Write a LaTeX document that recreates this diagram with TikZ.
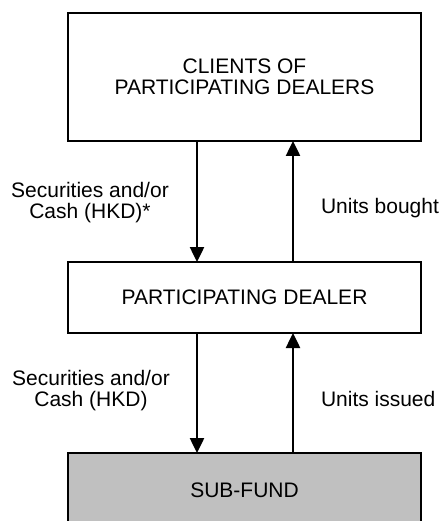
\documentclass[tikz,border=0pt]{standalone}
\usepackage{fontspec}
\setmainfont{Liberation Sans}
\usetikzlibrary{arrows.meta}
\begin{document}
\begin{tikzpicture}[x=1pt,y=-1pt,
  every node/.style={font=\fontsize{21}{21}\selectfont, inner sep=0pt, outer sep=0pt},
  box/.style={draw=black, line width=2pt, minimum width=353pt, align=center},
  arr/.style={line width=2.5pt, -{Triangle[width=14pt,length=15pt]}},
  lbl/.style={align=center}]
\useasboundingbox (0,0) rectangle (441,521);
\clip (0,0) rectangle (441,521);
\node[box, minimum height=128pt] (top) at (244.5,77) {CLIENTS OF\\PARTICIPATING DEALERS};
\node[box, minimum height=71pt] (mid) at (244.5,297.5) {PARTICIPATING DEALER};
\node[box, fill={rgb,255:red,192;green,192;blue,192}, minimum height=74pt] (sub) at (244.5,490) {SUB-FUND};
\coordinate (cd) at (197,0);
\coordinate (cu) at (293,0);
\draw[arr] (top.south -| cd) -- (mid.north -| cd);
\draw[arr] (mid.north -| cu) -- (top.south -| cu);
\draw[arr] (mid.south -| cd) -- (sub.north -| cd);
\draw[arr] (sub.north -| cu) -- (mid.south -| cu);
\node[lbl] (l1) at (90,203) {Securities and/or\\Cash (HKD)*};
\node[lbl] (l2) at (91,391) {Securities and/or\\Cash (HKD)};
\node[anchor=base west] (r1) at (321,213) {Units bought};
\node[anchor=base west] (r2) at (321,406) {Units issued};
\end{tikzpicture}
\end{document}
